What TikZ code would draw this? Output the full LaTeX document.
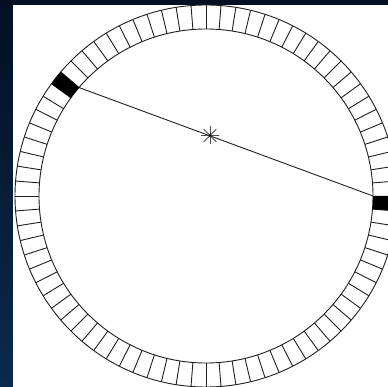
\documentclass[tikz,border=0pt]{standalone}
\definecolor{bgtop}{HTML}{021022}
\definecolor{bgbot}{HTML}{0B2A4E}
\definecolor{inkline}{HTML}{202020}
\begin{document}
\begin{tikzpicture}[x=1pt,y=-1pt,
  ringline/.style={draw=inkline, line width=0.9pt},
  blockfill/.style={fill=black},
  starline/.style={draw=black!70, line width=0.8pt}]
\useasboundingbox (0,0) rectangle (388,387);
\shade[top color=bgtop, bottom color=bgbot] (0,0) rectangle (388,387);
\fill[white] (13,5) rectangle (388,387);
\begin{scope}
  \clip (13,5) rectangle (388,387);
  \begin{scope}[shift={(206,196)}, yscale=-1]
    \draw[ringline] (0,0) circle (167);
    \draw[ringline] (0,0) circle (191);
    \foreach \i in {0,...,79}
      \draw[ringline] ({\i*4.5}:167) -- ({\i*4.5}:191);
    \fill[blockfill] (-4.5:167) arc[start angle=-4.5, end angle=0, radius=167]
      -- (0:191) arc[start angle=0, end angle=-4.5, radius=191] -- cycle;
    \fill[blockfill] (139.5:167) arc[start angle=139.5, end angle=144, radius=167]
      -- (144:191) arc[start angle=144, end angle=139.5, radius=191] -- cycle;
    \coordinate (L) at (139.5:167);
    \coordinate (R) at (0:167);
  \end{scope}
\end{scope}
\coordinate (S) at (210,135.5);
\draw[ringline] (L) -- (R);
\foreach \a in {0,45,90,135}
  \draw[starline, shift={(S)}] (\a:9) -- (\a+180:9);
\fill (S) circle (1.3);
\end{tikzpicture}
\end{document}
